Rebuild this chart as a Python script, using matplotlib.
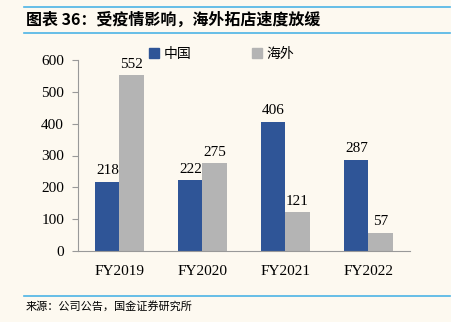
import matplotlib.pyplot as plt
import numpy as np
from matplotlib.lines import Line2D

categories = ["FY2019", "FY2020", "FY2021", "FY2022"]
china = [218, 222, 406, 287]
overseas = [552, 275, 121, 57]
yticks = [0, 100, 200, 300, 400, 500, 600]

bg = "#fdf9f0"
blue = "#2f5597"
grey = "#b4b4b4"
rule = "#4cb4e6"
serif = ["Liberation Serif", "DejaVu Serif"]
cjk = ["Noto Sans CJK SC", "DejaVu Sans"]

fig = plt.figure(figsize=(4.52, 3.22), dpi=100, facecolor=bg)
ax = fig.add_axes([78 / 452, 71 / 322, 332 / 452, 191 / 322], facecolor=bg)

x = np.arange(len(categories))
w = 0.29
b1 = ax.bar(x - w / 2, china, w, color=blue, label="中国")
b2 = ax.bar(x + w / 2, overseas, w, color=grey, label="海外")
for bars in (b1, b2):
    for r in bars:
        ax.text(r.get_x() + r.get_width() / 2, r.get_height() + 14, f"{int(r.get_height())}",
                ha="center", va="bottom", fontsize=11, family=serif)

ax.set_xlim(-0.5, len(categories) - 0.5)
ax.set_ylim(0, 600)
ax.set_yticks(yticks)
ax.set_yticklabels([str(v) for v in yticks], family=serif, fontsize=11)
ax.set_xticks(x)
ax.set_xticklabels(categories, family=serif, fontsize=11)
ax.tick_params(axis="y", length=4, color="#999999", pad=6)
ax.tick_params(axis="x", length=0, pad=10)
for s in ("top", "right"):
    ax.spines[s].set_visible(False)
for s in ("left", "bottom"):
    ax.spines[s].set_color("#999999")

handles = [Line2D([], [], marker="s", color=c, linestyle="", markersize=7) for c in (blue, grey)]
ax.legend(handles, ["中国", "海外"], loc="upper center", bbox_to_anchor=(0.43, 1.135),
          ncol=2, frameon=False, prop={"family": cjk, "size": 10},
          handletextpad=0.2, columnspacing=4.2, handlelength=1)

# title and source with blue rules
for yy in (7, 33, 296):
    fig.add_artist(Line2D([24 / 452, 450 / 452], [1 - yy / 322] * 2, color=rule, lw=1.2))
fig.text(26 / 452, 1 - 20 / 322, "图表 36：受疫情影响，海外拓店速度放缓", family=cjk,
         fontsize=11.5, fontweight="bold", fontstyle="italic", va="center", ha="left")
fig.text(26 / 452, 1 - 306 / 322, "来源：公司公告，国金证券研究所", family=cjk,
         fontsize=8, va="center", ha="left")

fig.savefig("out.png", dpi=100, facecolor=bg)
